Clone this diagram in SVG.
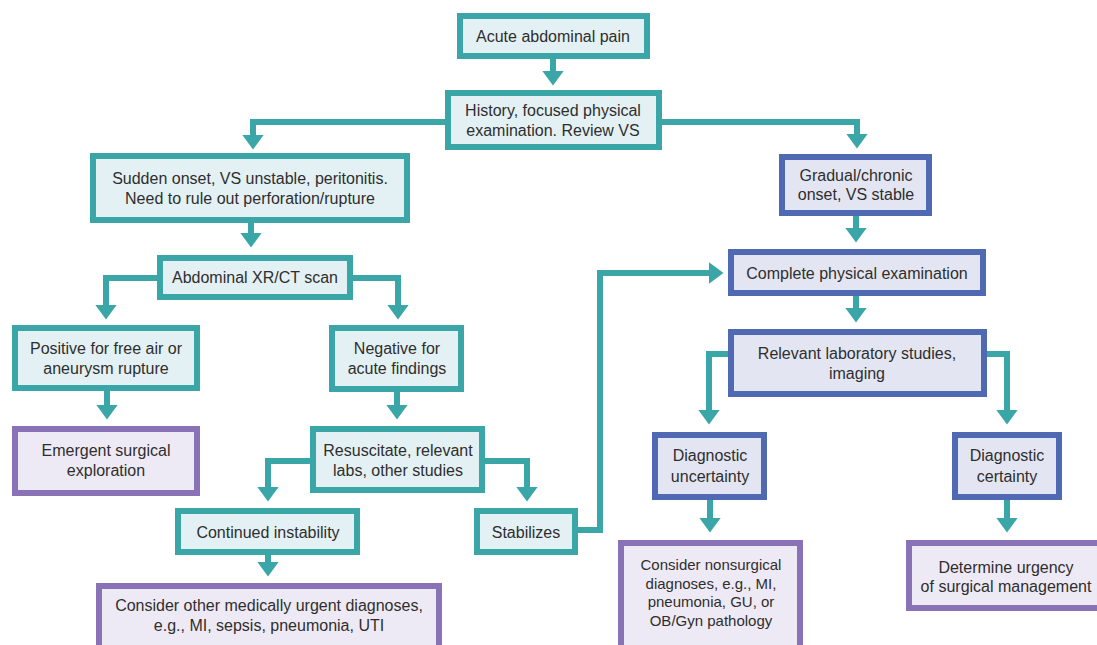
<svg xmlns="http://www.w3.org/2000/svg" width="1097" height="645" viewBox="0 0 1097 645">
  <style>
    .box rect { stroke-width: 6; }
    .teal rect { fill: #e4f1f4; stroke: #3ba6a8; }
    .blue rect { fill: #e3e6f2; stroke: #4f69b2; }
    .purple rect { fill: #eeeaf5; stroke: #8a72b7; }
    text { font-family: "Liberation Sans", Arial, sans-serif; font-size: 16px; fill: #2e2e2e; text-anchor: middle; }
    .small { font-size: 15px; }
    .conn { fill: none; stroke: #3ba6a8; stroke-width: 6; stroke-linejoin: miter; marker-end: url(#head); }
  </style>
  <defs>
    <marker id="head" markerUnits="userSpaceOnUse" viewBox="0 0 15 22" markerWidth="15" markerHeight="22" refX="0.5" refY="11" orient="auto">
      <path d="M0,0 L15,11 L0,22 Z" fill="#3ba6a8"/>
    </marker>
  </defs>
  <rect width="1097" height="645" fill="#ffffff"/>

  <!-- connectors -->
  <g id="connectors">
    <path class="conn" d="M553,59 V71"/>
    <path class="conn" d="M445,122 H253 V135"/>
    <path class="conn" d="M662,122 H857 V134"/>
    <path class="conn" d="M251,223 V233"/>
    <path class="conn" d="M157,278 H106 V305"/>
    <path class="conn" d="M353,278 H398 V305"/>
    <path class="conn" d="M856,216 V228"/>
    <path class="conn" d="M856,296 V308"/>
    <path class="conn" d="M107,391 V405"/>
    <path class="conn" d="M397,392 V405"/>
    <path class="conn" d="M728,354 H709 V410"/>
    <path class="conn" d="M987,354 H1007 V410"/>
    <path class="conn" d="M310,461 H268 V487"/>
    <path class="conn" d="M485,461 H527 V487"/>
    <path class="conn" d="M268,555 V562"/>
    <path class="conn" d="M578,530 H600 V273 H709"/>
    <path class="conn" d="M710,500 V518"/>
    <path class="conn" d="M1007,500 V518"/>
  </g>

  <!-- nodes -->
  <g id="acute-pain" class="box teal">
    <rect x="460" y="16" width="187" height="40"/>
    <text x="553" y="42">Acute abdominal pain</text>
  </g>
  <g id="history" class="box teal">
    <rect x="448" y="93" width="211" height="54"/>
    <text x="553" y="116">History, focused physical</text>
    <text x="553" y="136">examination. Review VS</text>
  </g>
  <g id="sudden-onset" class="box teal">
    <rect x="93" y="156" width="314" height="64"/>
    <text x="250" y="184">Sudden onset, VS unstable, peritonitis.</text>
    <text x="250" y="204">Need to rule out perforation/rupture</text>
  </g>
  <g id="gradual-onset" class="box blue">
    <rect x="782" y="157" width="147" height="56"/>
    <text x="856" y="181">Gradual/chronic</text>
    <text x="856" y="200">onset, VS stable</text>
  </g>
  <g id="imaging" class="box teal">
    <rect x="160" y="258" width="190" height="39"/>
    <text x="255" y="283">Abdominal XR/CT scan</text>
  </g>
  <g id="complete-exam" class="box blue">
    <rect x="731" y="252" width="252" height="41"/>
    <text x="857" y="279">Complete physical examination</text>
  </g>
  <g id="positive" class="box teal">
    <rect x="15" y="328" width="182" height="60"/>
    <text x="106" y="354">Positive for free air or</text>
    <text x="106" y="374">aneurysm rupture</text>
  </g>
  <g id="negative" class="box teal">
    <rect x="332" y="328" width="129" height="61"/>
    <text x="397" y="354">Negative for</text>
    <text x="397" y="374">acute findings</text>
  </g>
  <g id="lab-studies" class="box blue">
    <rect x="731" y="332" width="253" height="62"/>
    <text x="857" y="359">Relevant laboratory studies,</text>
    <text x="857" y="379">imaging</text>
  </g>
  <g id="surgical-exploration" class="box purple">
    <rect x="15" y="429" width="182" height="64"/>
    <text x="106" y="456">Emergent surgical</text>
    <text x="106" y="476">exploration</text>
  </g>
  <g id="resuscitate" class="box teal">
    <rect x="313" y="429" width="169" height="61"/>
    <text x="398" y="456">Resuscitate, relevant</text>
    <text x="398" y="476">labs, other studies</text>
  </g>
  <g id="uncertainty" class="box blue">
    <rect x="655" y="435" width="109" height="62"/>
    <text x="710" y="461">Diagnostic</text>
    <text x="710" y="482">uncertainty</text>
  </g>
  <g id="certainty" class="box blue">
    <rect x="955" y="435" width="104" height="62"/>
    <text x="1007" y="461">Diagnostic</text>
    <text x="1007" y="482">certainty</text>
  </g>
  <g id="instability" class="box teal">
    <rect x="178" y="511" width="179" height="41"/>
    <text x="268" y="538">Continued instability</text>
  </g>
  <g id="stabilizes" class="box teal">
    <rect x="477" y="511" width="98" height="41"/>
    <text x="526" y="538">Stabilizes</text>
  </g>
  <g id="urgent-diagnoses" class="box purple">
    <rect x="99" y="586" width="340" height="80"/>
    <text x="269" y="611">Consider other medically urgent diagnoses,</text>
    <text x="269" y="631">e.g., MI, sepsis, pneumonia, UTI</text>
  </g>
  <g id="nonsurgical" class="box purple">
    <rect x="621" y="543" width="179" height="120"/>
    <text class="small" x="711" y="570">Consider nonsurgical</text>
    <text class="small" x="711" y="589">diagnoses, e.g., MI,</text>
    <text class="small" x="711" y="607">pneumonia, GU, or</text>
    <text class="small" x="711" y="626">OB/Gyn pathology</text>
  </g>
  <g id="surgical-urgency" class="box purple">
    <rect x="909" y="543" width="200" height="65"/>
    <text x="1006" y="573">Determine urgency</text>
    <text x="1006" y="592">of surgical management</text>
  </g>
</svg>
